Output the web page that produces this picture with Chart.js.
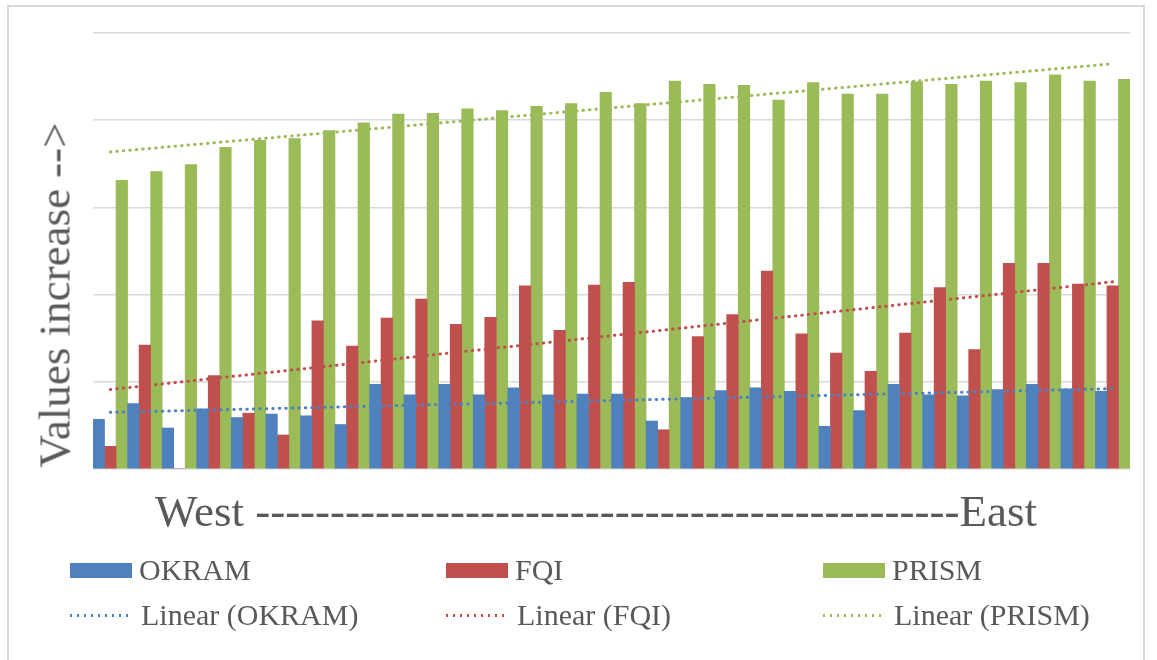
<!DOCTYPE html>
<html>
<head>
<meta charset="utf-8">
<script src="https://cdn.jsdelivr.net/npm/chart.js@4"></script>
<style>
  body { margin: 0; background: #fff; font-family: "Liberation Serif", "Times New Roman", serif; color: #595959; }
  #wrap { position: relative; width: 1157px; height: 660px; overflow: hidden; }
  #frame { position: absolute; left: 7px; top: 5px; width: 1138px; height: 700px; border: 2px solid #d9d9d9; box-sizing: border-box; }
  #box { position: absolute; left: 0; top: 0; width: 1157px; height: 660px; }
  .ttl { position: absolute; font-size: 45px; line-height: 1; white-space: nowrap; }
  #xTitle { left: 596px; top: 489px; transform: translateX(-50%); }
  #yTitle { left: 55px; top: 295px; transform: translate(-50%, -50%) rotate(-90deg); }
  .leg { position: absolute; font-size: 30px; line-height: 1; white-space: nowrap; display: flex; align-items: center; }
  .sw { width: 62px; height: 15px; margin-right: 7px; }
  .dots { width: 60px; height: 3px; margin-right: 11px; }
</style>
</head>
<body>
<div id="wrap">
  <div id="frame"></div>
  <div id="box"><canvas id="chart"></canvas></div>
  <div class="ttl" id="yTitle">Values increase --&gt;</div>
  <div class="ttl" id="xTitle">West -----------------------------------------------East</div>
  <div id="legend"></div>
</div>
<script>
// 30 sites, west to east
const sites = Array.from({ length: 30 }, (_, i) => "Site " + (i + 1));

const okram = [0.57, 0.75, 0.47, 0.69, 0.59, 0.63, 0.61, 0.51, 0.97, 0.85,
               0.97, 0.85, 0.93, 0.85, 0.86, 0.86, 0.55, 0.82, 0.90, 0.93,
               0.89, 0.49, 0.67, 0.97, 0.85, 0.84, 0.91, 0.97, 0.92, 0.89];
const fqi   = [0.26, 1.42, 0.00, 1.07, 0.64, 0.39, 1.70, 1.41, 1.73, 1.95,
               1.66, 1.74, 2.10, 1.59, 2.11, 2.14, 0.45, 1.52, 1.77, 2.27,
               1.55, 1.33, 1.12, 1.56, 2.08, 1.37, 2.36, 2.36, 2.12, 2.10];
const prism = [3.31, 3.41, 3.49, 3.69, 3.77, 3.79, 3.88, 3.97, 4.07, 4.08,
               4.13, 4.11, 4.16, 4.19, 4.32, 4.19, 4.45, 4.41, 4.40, 4.23,
               4.43, 4.30, 4.30, 4.44, 4.41, 4.45, 4.43, 4.52, 4.45, 4.47];

const seriesNames = ["OKRAM", "FQI", "PRISM"];
const seriesColors = ["#4f81bd", "#c0504d", "#9bbb59"];

// least squares trend, like Excel's linear trendline
function linearTrend(vals) {
  const n = vals.length;
  let sx = 0, sy = 0, sxy = 0, sxx = 0;
  vals.forEach((v, i) => {
    const x = i + 1;
    sx += x; sy += v; sxy += x * v; sxx += x * x;
  });
  const slope = (n * sxy - sx * sy) / (n * sxx - sx * sx);
  const icpt = (sy - slope * sx) / n;
  return vals.map((_, i) => icpt + slope * (i + 1));
}

const allSeries = [okram, fqi, prism];

const barSets = allSeries.map((vals, i) => ({
  type: "bar",
  label: seriesNames[i],
  data: vals,
  backgroundColor: seriesColors[i],
  borderWidth: 0,
  categoryPercentage: 1.0,
  barPercentage: 1.0,
  order: 2
}));

const trendSets = allSeries.map((vals, i) => ({
  type: "line",
  label: "Linear (" + seriesNames[i] + ")",
  data: linearTrend(vals),
  borderColor: seriesColors[i],
  borderWidth: 3,
  borderDash: [0.5, 6],
  borderCapStyle: "round",
  pointRadius: 0,
  fill: false,
  order: 1
}));

const chart = new Chart(document.getElementById("chart"), {
  data: {
    labels: sites,
    datasets: barSets.concat(trendSets)
  },
  options: {
    responsive: true,
    maintainAspectRatio: false,
    animation: false,
    layout: { padding: { left: 93, right: 27, top: 33, bottom: 191 } },
    plugins: { legend: { display: false }, tooltip: { enabled: false } },
    scales: {
      x: { display: false },
      y: {
        min: 0,
        max: 5,
        ticks: { display: false, stepSize: 1 },
        grid: { color: "#d9d9d9", lineWidth: 1.5, drawTicks: false },
        border: { display: false }
      }
    }
  }
});

// legend in three columns, two rows
const legendCols = [70, 446, 823];
const legend = document.getElementById("legend");
chart.data.datasets.forEach((ds, i) => {
  const col = i % 3;
  const row = Math.floor(i / 3);
  const item = document.createElement("div");
  item.className = "leg";
  item.style.left = legendCols[col] + "px";
  item.style.top = (row === 0 ? 555 : 600) + "px";
  const mark = document.createElement("span");
  if (ds.type === "bar") {
    mark.className = "sw";
    mark.style.background = ds.backgroundColor;
  } else {
    mark.className = "dots";
    mark.style.background = "repeating-linear-gradient(to right, " + ds.borderColor +
      " 0 2.5px, transparent 2.5px 7px)";
  }
  item.appendChild(mark);
  item.appendChild(document.createTextNode(ds.label));
  legend.appendChild(item);
});
</script>
</body>
</html>
